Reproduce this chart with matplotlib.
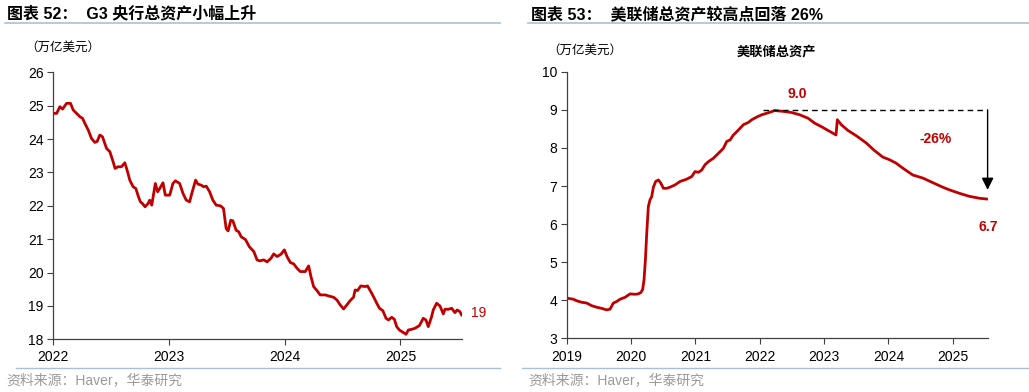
import matplotlib
matplotlib.use("Agg")
import matplotlib.pyplot as plt
from matplotlib.lines import Line2D

plt.rcParams['font.family'] = ['Liberation Sans', 'Noto Sans CJK SC', 'DejaVu Sans']

RED = '#c00000'
RULE = '#a9c0d8'

# G3 central bank total assets (trillion USD), decimal year
g3_t = [2022.000, 2022.029, 2022.057, 2022.080, 2022.115, 2022.149, 2022.172, 2022.201, 2022.230,
        2022.253, 2022.273, 2022.302, 2022.330, 2022.359, 2022.379, 2022.402, 2022.425, 2022.460,
        2022.489, 2022.517, 2022.534, 2022.560, 2022.589, 2022.618, 2022.638, 2022.661, 2022.690,
        2022.713, 2022.736, 2022.753, 2022.770, 2022.793, 2022.819, 2022.833, 2022.851, 2022.868,
        2022.882, 2022.902, 2022.920, 2022.948, 2022.968, 2023.006, 2023.034, 2023.055, 2023.092,
        2023.121, 2023.149, 2023.178, 2023.201, 2023.230, 2023.250, 2023.279, 2023.299, 2023.322,
        2023.351, 2023.379, 2023.408, 2023.445, 2023.471, 2023.494, 2023.511, 2023.534, 2023.552,
        2023.580, 2023.603, 2023.624, 2023.661, 2023.695, 2023.733, 2023.761, 2023.784, 2023.819,
        2023.848, 2023.882, 2023.905, 2023.934, 2023.968, 2023.997, 2024.020, 2024.049, 2024.078,
        2024.106, 2024.135, 2024.178, 2024.207, 2024.227, 2024.250, 2024.279, 2024.307, 2024.351,
        2024.379, 2024.422, 2024.451, 2024.480, 2024.509, 2024.537, 2024.566, 2024.595, 2024.609,
        2024.629, 2024.658, 2024.695, 2024.716, 2024.744, 2024.767, 2024.796, 2024.819, 2024.848,
        2024.876, 2024.897, 2024.925, 2024.948, 2024.968, 2024.991, 2025.026, 2025.049, 2025.069,
        2025.098, 2025.126, 2025.164, 2025.198, 2025.221, 2025.241, 2025.270, 2025.284, 2025.313,
        2025.342, 2025.371, 2025.385, 2025.414, 2025.443, 2025.471, 2025.491, 2025.514, 2025.529]
g3_v = [24.77, 24.77, 24.97, 24.90, 25.07, 25.07, 24.87, 24.77, 24.67,
        24.62, 24.47, 24.27, 24.02, 23.90, 23.93, 24.12, 24.07, 23.72,
        23.62, 23.32, 23.12, 23.17, 23.17, 23.29, 23.07, 22.77, 22.57,
        22.52, 22.27, 22.12, 22.07, 21.97, 22.07, 22.17, 22.02, 22.37,
        22.67, 22.42, 22.52, 22.69, 22.32, 22.32, 22.67, 22.75, 22.67,
        22.37, 22.17, 22.12, 22.42, 22.77, 22.65, 22.62, 22.57, 22.59,
        22.42, 22.17, 22.02, 22.00, 21.92, 21.32, 21.25, 21.57, 21.55,
        21.27, 21.22, 21.07, 20.99, 20.77, 20.63, 20.38, 20.35, 20.38,
        20.32, 20.43, 20.56, 20.48, 20.55, 20.68, 20.48, 20.30, 20.26,
        20.13, 20.03, 20.03, 20.20, 19.88, 19.58, 19.46, 19.33, 19.33,
        19.30, 19.26, 19.18, 19.03, 18.91, 19.03, 19.16, 19.26, 19.48,
        19.46, 19.60, 19.58, 19.60, 19.43, 19.28, 19.08, 18.93, 18.86,
        18.63, 18.58, 18.66, 18.60, 18.38, 18.28, 18.20, 18.15, 18.28,
        18.30, 18.33, 18.41, 18.63, 18.58, 18.38, 18.68, 18.88, 19.08,
        19.00, 18.76, 18.90, 18.90, 18.93, 18.80, 18.88, 18.83, 18.73]

# Fed total assets (trillion USD), decimal year
fed_t = [2019.000, 2019.104, 2019.155, 2019.233, 2019.311, 2019.389, 2019.466, 2019.544, 2019.622,
         2019.674, 2019.725, 2019.777, 2019.829, 2019.907, 2019.984, 2020.062, 2020.114, 2020.155,
         2020.181, 2020.202, 2020.223, 2020.244, 2020.269, 2020.295, 2020.321, 2020.347, 2020.383,
         2020.425, 2020.461, 2020.503, 2020.554, 2020.606, 2020.684, 2020.762, 2020.865, 2020.943,
         2020.995, 2021.047, 2021.098, 2021.150, 2021.202, 2021.280, 2021.358, 2021.435, 2021.487,
         2021.539, 2021.591, 2021.668, 2021.746, 2021.824, 2021.876, 2021.953, 2022.031, 2022.109,
         2022.233, 2022.362, 2022.491, 2022.620, 2022.749, 2022.853, 2022.956, 2023.059, 2023.185,
         2023.205, 2023.266, 2023.369, 2023.499, 2023.654, 2023.783, 2023.912, 2024.016, 2024.119,
         2024.222, 2024.377, 2024.532, 2024.687, 2024.842, 2024.946, 2025.101, 2025.256, 2025.411,
         2025.525]
fed_v = [4.06, 4.03, 3.99, 3.95, 3.93, 3.86, 3.82, 3.79, 3.75,
         3.77, 3.93, 3.97, 4.03, 4.08, 4.17, 4.16, 4.17, 4.21,
         4.29, 4.54, 5.06, 5.76, 6.46, 6.64, 6.72, 6.97, 7.12,
         7.16, 7.08, 6.94, 6.94, 6.97, 7.03, 7.12, 7.18, 7.25,
         7.38, 7.36, 7.42, 7.56, 7.64, 7.73, 7.86, 7.99, 8.17,
         8.21, 8.34, 8.47, 8.61, 8.67, 8.74, 8.81, 8.87, 8.91,
         8.98, 8.96, 8.93, 8.87, 8.78, 8.65, 8.56, 8.46, 8.34,
         8.74, 8.61, 8.46, 8.32, 8.13, 7.93, 7.76, 7.69, 7.60,
         7.47, 7.29, 7.21, 7.09, 6.97, 6.90, 6.81, 6.73, 6.68,
         6.66]

fed_peak = 9.0
fed_last = 6.7

fig = plt.figure(figsize=(10.29, 3.92), dpi=100)


def style_axes(ax):
    for s in ['top', 'right']:
        ax.spines[s].set_visible(False)
    for s in ['left', 'bottom']:
        ax.spines[s].set_color('#404040')
        ax.spines[s].set_linewidth(0.9)
    ax.tick_params(axis='both', direction='out', length=4, width=0.8, color='#404040',
                   labelsize=10, labelcolor='black')
    ax.tick_params(axis='x', pad=4)
    ax.tick_params(axis='y', pad=3)


# ---- left chart
ax1 = fig.add_axes([0.0518, 0.1344, 0.3969, 0.6811])
ax1.plot(g3_t, g3_v, color=RED, lw=2.0)
ax1.set_xlim(2022, 2025.53)
ax1.set_ylim(18, 26)
ax1.set_xticks([2022, 2023, 2024, 2025])
ax1.set_xticklabels(['2022', '2023', '2024', '2025'])
ax1.set_yticks(range(18, 27))
style_axes(ax1)
ax1.text(2025.61, 18.79, '19', color=RED, fontsize=10, ha='left', va='center', clip_on=False)

# ---- right chart
ax2 = fig.add_axes([0.5507, 0.1365, 0.4097, 0.6806])
ax2.plot(fed_t, fed_v, color=RED, lw=2.0)
ax2.set_xlim(2019, 2025.55)
ax2.set_ylim(3, 10)
ax2.set_xticks(range(2019, 2026))
ax2.set_xticklabels([str(y) for y in range(2019, 2026)])
ax2.set_yticks(range(3, 11))
style_axes(ax2)
ax2.plot([2022.05, 2025.54], [fed_peak, fed_peak], color='black', lw=1, dashes=(4, 3))
ax2.annotate('', xy=(2025.54, 6.9), xytext=(2025.54, fed_peak),
             arrowprops=dict(arrowstyle='-|>', color='black', lw=1, mutation_scale=18,
                             shrinkA=0, shrinkB=0))
ax2.text(2022.58, 9.42, f'{fed_peak:.1f}', color=RED, fontsize=10, fontweight='bold',
         ha='center', va='center')
ax2.text(2024.73, 8.23, '-26%', color=RED, fontsize=10, fontweight='bold',
         ha='center', va='center')
ax2.text(2025.55, 5.93, f'{fed_last:.1f}', color=RED, fontsize=10, fontweight='bold',
         ha='center', va='center', clip_on=False)

# ---- titles, units, rules, sources
fig.text(7 / 1029, 1 - 14 / 392, '图表 52：  G3 央行总资产小幅上升', fontsize=11.5,
         fontweight='bold', ha='left', va='center')
fig.text(531 / 1029, 1 - 14 / 392, '图表 53：  美联储总资产较高点回落 26%', fontsize=11.5,
         fontweight='bold', ha='left', va='center')

fig.text(25 / 1029, 1 - 47 / 392, '（万亿美元）', fontsize=9, ha='left', va='center',
         family=['Noto Sans CJK SC'])
fig.text(547 / 1029, 1 - 50 / 392, '（万亿美元）', fontsize=9, ha='left', va='center',
         family=['Noto Sans CJK SC'])
fig.text(776 / 1029, 1 - 52 / 392, '美联储总资产', fontsize=9.5, fontweight='bold',
         ha='center', va='center')

for x0, x1 in [(5, 500), (528, 1029)]:
    fig.add_artist(Line2D([x0 / 1029, x1 / 1029], [1 - 23 / 392] * 2, color=RULE, lw=1.2))
for x0, x1 in [(16, 500), (522, 1029)]:
    fig.add_artist(Line2D([x0 / 1029, x1 / 1029], [1 - 368 / 392] * 2, color=RULE, lw=1.0))

fig.text(6 / 1029, 1 - 380 / 392, '资料来源：Haver，华泰研究', fontsize=10, color='#9a9a9a',
         ha='left', va='center')
fig.text(528 / 1029, 1 - 380 / 392, '资料来源：Haver，华泰研究', fontsize=10, color='#9a9a9a',
         ha='left', va='center')

fig.savefig('out.png', dpi=100)
